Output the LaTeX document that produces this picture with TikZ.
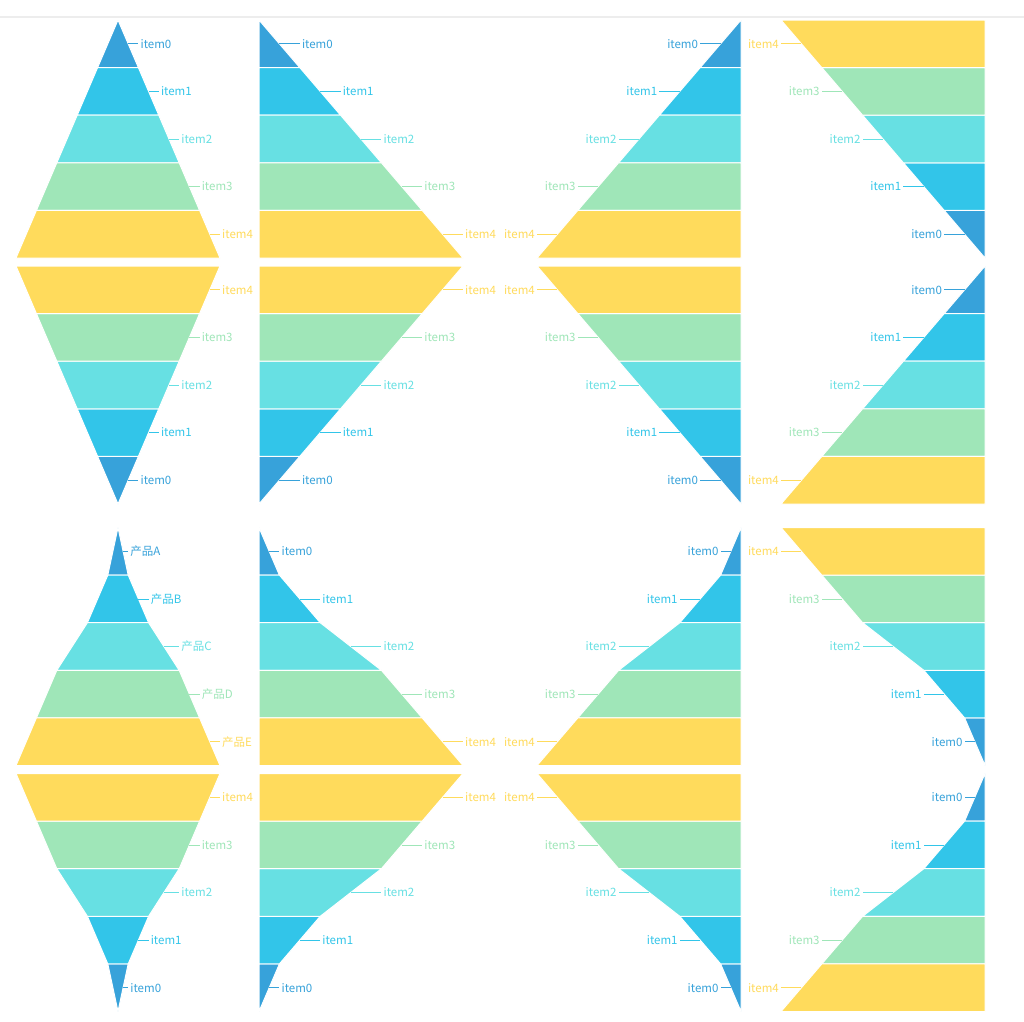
\documentclass[tikz,border=0pt]{standalone}
\usepackage{fontspec}
\newfontfamily\cjk{Noto Sans CJK SC}
\definecolor{c0}{HTML}{37A2DA}
\definecolor{c1}{HTML}{32C5E9}
\definecolor{c2}{HTML}{67E0E3}
\definecolor{c3}{HTML}{9FE6B8}
\definecolor{c4}{HTML}{FFDB5C}
\tikzset{
  seg/.style={draw=white, line width=1pt, line join=miter},
  lab/.style={font=\cjk\fontsize{11.5}{12}\selectfont, inner xsep=2pt, inner ysep=0pt, text height=8.6pt, text depth=0pt},
  lline/.style={line width=0.8pt}
}
% #1 name, #2 ref x, #3 a (left factor), #4 b (right factor), #5 order (0 asc, 1 desc), #6 top y, #7 widths, #8 labels macro
\newcommand\funnel[8]{%
  \ifdim #4pt>0pt \def\anc{west}\else\def\anc{east}\fi
  \foreach \i/\lab in #8{%
    \pgfmathtruncatemacro\j{\i+1}%
    \pgfmathsetmacro\wa{{#7}[\i]}%
    \pgfmathsetmacro\wb{{#7}[\j]}%
    \pgfmathsetmacro\s{\i+#5*(4-2*\i)}%
    \pgfmathsetmacro\wt{(1-#5)*\wa+#5*\wb}%
    \pgfmathsetmacro\wbo{(1-#5)*\wb+#5*\wa}%
    \pgfmathsetmacro\yt{#6+\s*47.6}%
    \pgfmathsetmacro\yb{\yt+47.6}%
    \pgfmathsetmacro\ym{\yt+23.8}%
    \pgfmathsetmacro\wm{(\wa+\wb)/2}%
    \pgfmathsetmacro\f{max(#3,#4)}%
    \pgfmathsetmacro\sg{#4>0 ? 1 : -1}%
    \pgfmathsetmacro\xd{#2+\sg*\f*\wm}%
    \pgfmathsetmacro\xe{#2+\sg*\f*\wb}%
    \pgfmathsetmacro\xla{#2-#3*\wt}%
    \pgfmathsetmacro\xlb{#2+#4*\wt}%
    \pgfmathsetmacro\xlc{#2+#4*\wbo}%
    \pgfmathsetmacro\xld{#2-#3*\wbo}%
    \draw[seg, fill=c\i] (\xla,\yt) -- (\xlb,\yt) -- (\xlc,\yb) -- (\xld,\yb) -- cycle;
    \coordinate (#1-e\i) at (\xd,\ym);
    \node[lab, text=c\i, anchor=\anc] (#1-l\i) at (\xe,\ym) {\lab};
    \draw[lline, c\i] (#1-e\i) -- (#1-l\i.\anc);
  }%
}
\def\Litems{0/item0,1/item1,2/item2,3/item3,4/item4}
\def\Lcn{0/产品A,1/产品B,2/产品C,3/产品D,4/产品E}
\begin{document}
\begin{tikzpicture}[x=1pt,y=-1pt]
\fill[white] (0,0) rectangle (1024,1021);
\useasboundingbox (0,0) rectangle (1024,1021);
\draw[black!7, line width=1.5pt] (0,17) -- (1024,17);
% row 1
\funnel{a1}{118}{0.5}{0.5}{0}{20}{0,40.8,81.6,122.4,163.2,204}{\Litems}
\funnel{a2}{259}{0}{1}{0}{20}{0,40.8,81.6,122.4,163.2,204}{\Litems}
\funnel{a3}{741}{1}{0}{0}{20}{0,40.8,81.6,122.4,163.2,204}{\Litems}
\funnel{a4}{985}{1}{0}{1}{20}{0,40.8,81.6,122.4,163.2,204}{\Litems}
% row 2
\funnel{b1}{118}{0.5}{0.5}{1}{266}{0,40.8,81.6,122.4,163.2,204}{\Litems}
\funnel{b2}{259}{0}{1}{1}{266}{0,40.8,81.6,122.4,163.2,204}{\Litems}
\funnel{b3}{741}{1}{0}{1}{266}{0,40.8,81.6,122.4,163.2,204}{\Litems}
\funnel{b4}{985}{1}{0}{0}{266}{0,40.8,81.6,122.4,163.2,204}{\Litems}
% row 3
\funnel{c1}{118}{0.5}{0.5}{0}{527.5}{0,20.4,61.2,122.4,163.2,204}{\Lcn}
\funnel{c2}{259}{0}{1}{0}{527.5}{0,20.4,61.2,122.4,163.2,204}{\Litems}
\funnel{c3}{741}{1}{0}{0}{527.5}{0,20.4,61.2,122.4,163.2,204}{\Litems}
\funnel{c4}{985}{1}{0}{1}{527.5}{0,20.4,61.2,122.4,163.2,204}{\Litems}
% row 4
\funnel{d1}{118}{0.5}{0.5}{1}{773.5}{0,20.4,61.2,122.4,163.2,204}{\Litems}
\funnel{d2}{259}{0}{1}{1}{773.5}{0,20.4,61.2,122.4,163.2,204}{\Litems}
\funnel{d3}{741}{1}{0}{1}{773.5}{0,20.4,61.2,122.4,163.2,204}{\Litems}
\funnel{d4}{985}{1}{0}{0}{773.5}{0,20.4,61.2,122.4,163.2,204}{\Litems}
\end{tikzpicture}
\end{document}
